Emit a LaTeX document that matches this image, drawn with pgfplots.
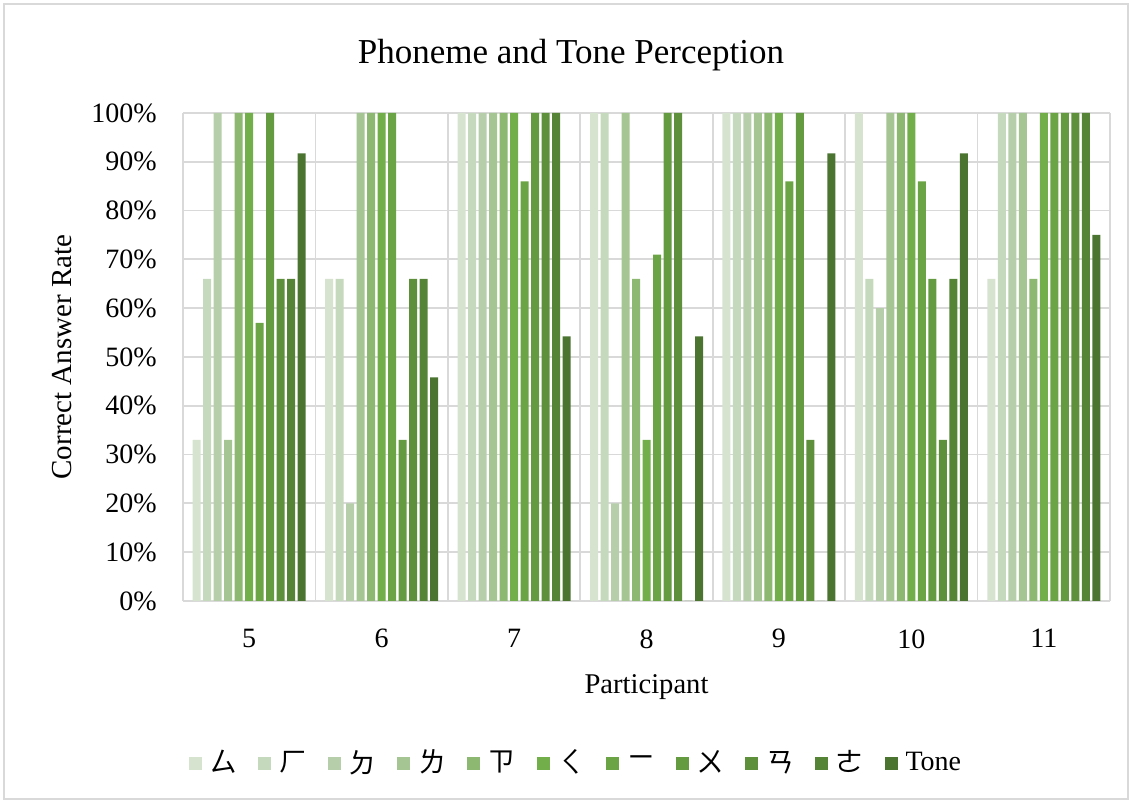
\documentclass[border=0pt]{standalone}
\usepackage{fontspec}
\setmainfont{Liberation Serif}
\newfontfamily\cjk{Noto Sans CJK TC}
\usepackage{pgfplots}
\pgfplotsset{compat=1.18}
\definecolor{gridc}{HTML}{D9D9D9}
\definecolor{cA}{HTML}{D5E3CF}
\definecolor{cB}{HTML}{C5D9BC}
\definecolor{cC}{HTML}{B6CFAA}
\definecolor{cD}{HTML}{A5C592}
\definecolor{cE}{HTML}{8DB872}
\definecolor{cF}{HTML}{72AE4A}
\definecolor{cG}{HTML}{6BA445}
\definecolor{cH}{HTML}{659B40}
\definecolor{cI}{HTML}{5E903B}
\definecolor{cJ}{HTML}{568437}
\definecolor{cK}{HTML}{4C7431}
\begin{document}
\begin{tikzpicture}
\path (0,0) rectangle (566pt,401.5pt);
\draw[gridc, line width=0.6pt] (2pt,2pt) rectangle (564pt,399.5pt);
\begin{axis}[
  at={(91.5pt,101pt)}, anchor=south west,
  scale only axis, width=463.5pt, height=244pt,
  ybar=1.25pt, bar width=4pt,
  xmin=-0.5, xmax=6.5, ymin=0, ymax=100,
  xtick={0,...,6}, xticklabels={5,6,7,8,9,10,11},
  minor xtick={-0.5,0.5,...,6.5},
  ytick={0,10,...,100},
  xminorgrids, ymajorgrids,
  grid style={gridc, line width=0.9pt},
  minor grid style={gridc, line width=0.9pt},
  axis line style={draw=none},
  major tick length=0pt, minor tick length=0pt,
  /pgf/number format/assume math mode=true,
  yticklabel={\pgfmathprintnumber{\tick}\%},
  ticklabel style={font=\fontsize{14}{16}\selectfont},
  yticklabel style={anchor=east, inner sep=0pt, xshift=-13pt},
  xticklabel style={anchor=north, inner sep=0pt, yshift=-14pt},
  xlabel={Participant},
  ylabel={Correct Answer Rate},
  xlabel style={at={(axis description cs:0.5,0)}, anchor=north, inner sep=0pt, yshift=-36.5pt, font=\fontsize{14.3}{16}\selectfont},
  ylabel style={at={(axis description cs:-0.12,0.5)}, anchor=south, inner sep=0pt, font=\fontsize{14.5}{16}\selectfont},
  title={Phoneme and Tone Perception},
  title style={at={(axis description cs:0.4186,1.076)}, anchor=base, inner sep=0pt, font=\fontsize{17.5}{19}\selectfont},
  legend columns=11,
  legend style={at={(axis description cs:0.427,-0.332)}, anchor=center, draw=none, fill=none,
    font=\fontsize{14}{16}\selectfont, nodes={inner xsep=4pt, inner ysep=1pt},
    /tikz/every even column/.append style={column sep=6.3pt}},
  legend image code/.code={\fill[#1] (0pt,-3.25pt) rectangle (6.5pt,3.25pt);},
]
\addplot[fill=cA, draw=none] coordinates {(0,33) (1,66) (2,100) (3,100) (4,100) (5,100) (6,66)};
\addplot[fill=cB, draw=none] coordinates {(0,66) (1,66) (2,100) (3,100) (4,100) (5,66) (6,100)};
\addplot[fill=cC, draw=none] coordinates {(0,100) (1,20) (2,100) (3,20) (4,100) (5,60) (6,100)};
\addplot[fill=cD, draw=none] coordinates {(0,33) (1,100) (2,100) (3,100) (4,100) (5,100) (6,100)};
\addplot[fill=cE, draw=none] coordinates {(0,100) (1,100) (2,100) (3,66) (4,100) (5,100) (6,66)};
\addplot[fill=cF, draw=none] coordinates {(0,100) (1,100) (2,100) (3,33) (4,100) (5,100) (6,100)};
\addplot[fill=cG, draw=none] coordinates {(0,57) (1,100) (2,86) (3,71) (4,86) (5,86) (6,100)};
\addplot[fill=cH, draw=none] coordinates {(0,100) (1,33) (2,100) (3,100) (4,100) (5,66) (6,100)};
\addplot[fill=cI, draw=none] coordinates {(0,66) (1,66) (2,100) (3,100) (4,33) (5,33) (6,100)};
\addplot[fill=cJ, draw=none] coordinates {(0,66) (1,66) (2,100) (3,0) (4,0) (5,66) (6,100)};
\addplot[fill=cK, draw=none] coordinates {(0,91.7) (1,45.8) (2,54.2) (3,54.2) (4,91.7) (5,91.7) (6,75)};
\legend{{\cjk ㄙ},{\cjk ㄏ},{\cjk ㄉ},{\cjk ㄌ},{\cjk ㄗ},{\cjk ㄑ},{\cjk ㄧ},{\cjk ㄨ},{\cjk ㄢ},{\cjk ㄜ},Tone}
\end{axis}
\end{tikzpicture}
\end{document}
